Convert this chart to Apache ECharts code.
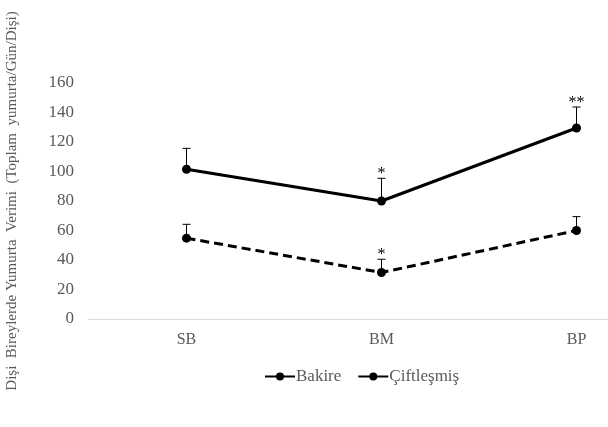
<!DOCTYPE html>
<html>
<head>
<meta charset="utf-8">
<script src="https://cdn.jsdelivr.net/npm/echarts@6/dist/echarts.min.js"></script>
<style>
  html, body { margin: 0; padding: 0; background: #fff; }
  #chart { width: 608px; height: 427px; }
</style>
</head>
<body>
<div id="chart"></div>
<script>
const categories = ["SB", "BM", "BP"];
const yTicks = { min: 0, max: 160, interval: 20 };

const bakire = [101.5, 80, 129.5];
const bakireErrTop = [115.7, 95.4, 143.7];
const bakireSig = ["", "*", "**"];

const ciftlesmis = [54.8, 31.5, 60];
const ciftlesmisErrTop = [64.2, 40.5, 69.4];
const ciftlesmisSig = ["", "*", ""];

const serif = "'Liberation Serif', 'DejaVu Serif', serif";
const textGray = "#595959";

// upper-only error bar with cap, plus significance stars above it
const errorBar = (params, api) => {
  const base = api.coord([api.value(0), api.value(1)]);
  const top = api.coord([api.value(0), api.value(2)]);
  const sig = api.value(3);
  const capHalf = 4;
  const style = { stroke: "#000", lineWidth: 1 };
  const children = [
    { type: "line", shape: { x1: base[0], y1: base[1], x2: top[0], y2: top[1] }, style },
    { type: "line", shape: { x1: top[0] - capHalf, y1: top[1], x2: top[0] + capHalf, y2: top[1] }, style }
  ];
  if (sig) {
    children.push({
      type: "text",
      style: {
        text: sig, x: top[0], y: top[1] + 4,
        align: "center", verticalAlign: "bottom",
        font: "16px " + serif, fill: "#000"
      }
    });
  }
  return { type: "group", children };
};

const errData = (vals, tops, sigs) =>
  categories.map((c, i) => [i, vals[i], tops[i], sigs[i]]);

const chart = echarts.init(document.getElementById("chart"));
chart.setOption({
  animation: false,
  backgroundColor: "#fff",
  // plot runs past the right edge, as in the cropped original
  grid: { left: 89, top: 83, right: -66, bottom: 108, containLabel: false, outerBoundsMode: "none" },
  legend: {
    data: ["Bakire", "Çiftleşmiş"],
    left: 259, top: 363,
    itemWidth: 30, itemHeight: 10, itemGap: 16,
    lineStyle: { type: "solid" },
    textStyle: { fontFamily: serif, fontSize: 17, color: textGray, padding: [0, 0, 0, -4] }
  },
  xAxis: {
    type: "category",
    data: categories,
    boundaryGap: true,
    axisLine: { lineStyle: { color: "#d9d9d9", width: 1 } },
    axisTick: { show: false },
    axisLabel: { fontFamily: serif, fontSize: 16, color: textGray, margin: 13 }
  },
  yAxis: {
    type: "value",
    min: yTicks.min, max: yTicks.max, interval: yTicks.interval,
    name: "Dişi  Bireylerde Yumurta  Verimi  (Toplam  yumurta/Gün/Dişi)",
    nameLocation: "middle",
    nameGap: 69,
    nameTextStyle: { fontFamily: serif, fontSize: 15, color: textGray },
    axisLine: { show: false },
    axisTick: { show: false },
    splitLine: { show: false },
    axisLabel: { fontFamily: serif, fontSize: 17, color: textGray, margin: 15 }
  },
  series: [
    {
      name: "Bakire", type: "line", data: bakire,
      symbol: "circle", symbolSize: 9,
      itemStyle: { color: "#000" },
      lineStyle: { color: "#000", width: 3 },
      z: 3
    },
    {
      name: "Çiftleşmiş", type: "line", data: ciftlesmis,
      symbol: "circle", symbolSize: 9,
      itemStyle: { color: "#000" },
      lineStyle: { color: "#000", width: 3, type: [9, 5] },
      z: 3
    },
    {
      type: "custom", renderItem: errorBar,
      data: errData(bakire, bakireErrTop, bakireSig), z: 2
    },
    {
      type: "custom", renderItem: errorBar,
      data: errData(ciftlesmis, ciftlesmisErrTop, ciftlesmisSig), z: 2
    }
  ]
});
</script>
</body>
</html>
